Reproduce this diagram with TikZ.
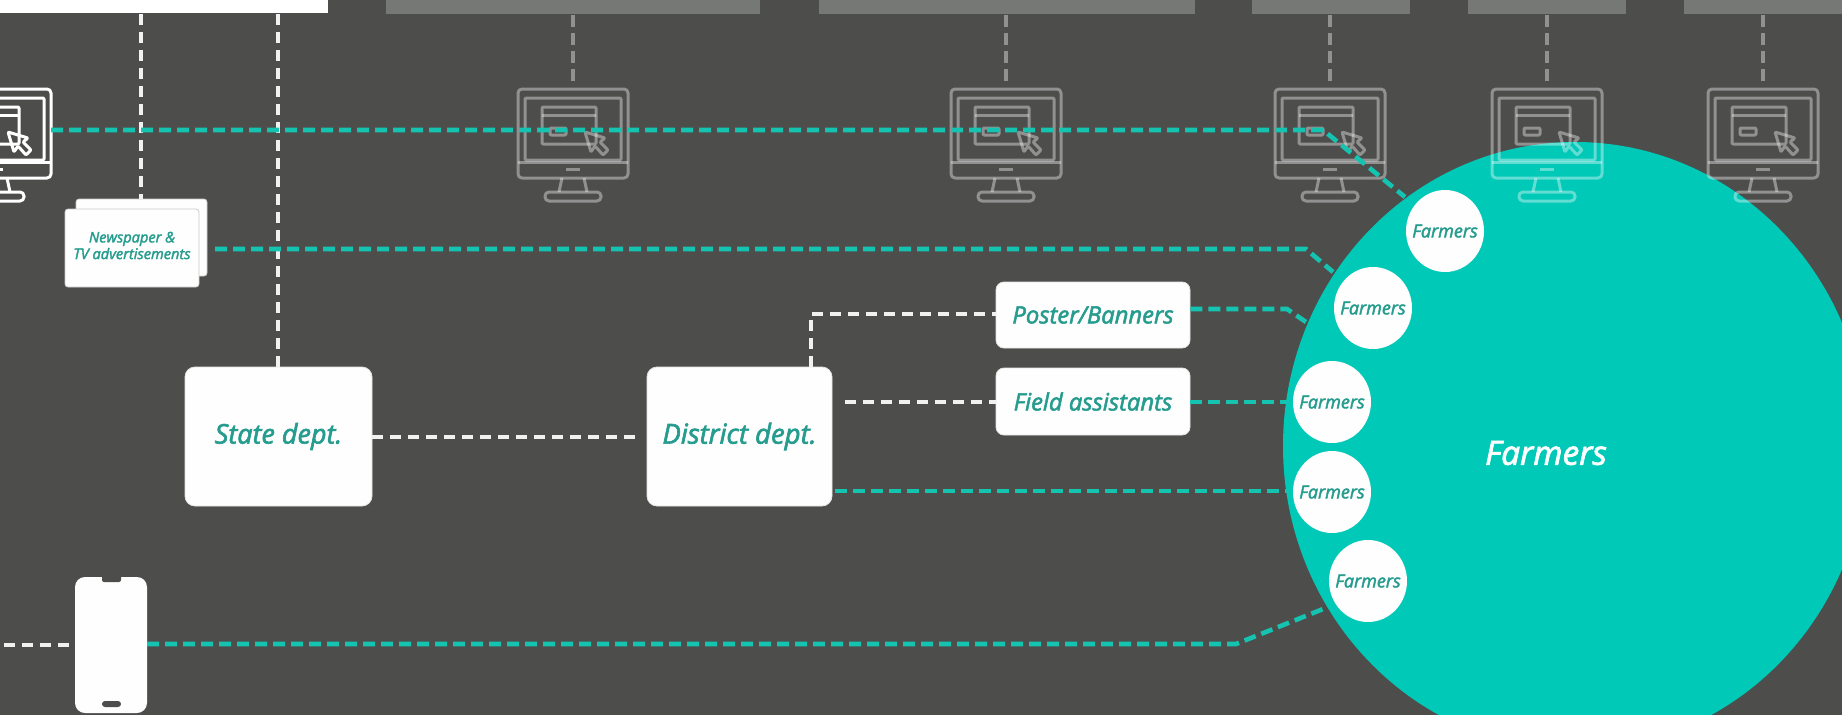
\documentclass[tikz,border=0pt]{standalone}
\usepackage{fontspec}
\setmainfont{Open Sans}[ItalicFeatures={FakeBold=2.2}]
\usetikzlibrary{shapes.geometric}
\definecolor{bgc}{HTML}{4D4E4C}
\definecolor{greybox}{HTML}{767876}
\definecolor{tealbig}{HTML}{00C9B8}
\definecolor{tealline}{HTML}{14C4B0}
\definecolor{tealtext}{HTML}{259C8E}
\definecolor{softwhite}{HTML}{FDFEFD}
\newcommand{\fs}[1]{\fontsize{#1}{#1}\selectfont}
\tikzset{
  whitebox/.style={fill=softwhite,draw=white!85!bgc,line width=.8pt,rounded corners=10pt,inner sep=0pt,
    text=tealtext,font=\fs{27}\itshape,align=center},
  smallbox/.style={whitebox,rounded corners=8pt,font=\fs{23.8}\itshape},
  newsbox/.style={fill=softwhite,draw=white!70!bgc,line width=.8pt,rounded corners=3pt,inner sep=0pt},
  farmer/.style={ellipse,fill=softwhite,inner sep=0pt,outer sep=0pt,minimum width=78pt,minimum height=82pt,
    text=tealtext,font=\fs{18}\itshape},
  whitedash/.style={draw=white!92!bgc,line width=4.6pt,dash pattern=on 11pt off 7pt},
  tealdash/.style={draw=tealline,line width=4.6pt,dash pattern=on 12pt off 6pt},
  greydash/.style={draw=white,opacity=.38,line width=4.4pt,dash pattern=on 12pt off 6pt},
  monitor/.pic={
    \begin{scope}[line width=3pt,line join=round,rounded corners=1pt]
      \draw[rounded corners=4pt] (-55,0) rectangle (55,89);
      \draw (-48,9) rectangle (48,71);
      \draw (-55,73) -- (55,73);
      \draw (-7,80) -- (7,80);
      \draw (-11,89) -- (-14,103) (11,89) -- (14,103);
      \draw[rounded corners=4pt] (-28,103) rectangle (28,112);
      \draw (-31,18) rectangle (23,55);
      \draw (-31,26) -- (23,26);
      \draw (-23,39) rectangle (-7,46);
      \draw (12,43) -- (18,63) -- (22,57) -- (30,66) -- (35,61) -- (27,53) -- (32,49) -- cycle;
    \end{scope}
  }
}
\begin{document}
\begin{tikzpicture}[x=1pt,y=-1pt]
  \path[use as bounding box,clip] (0,0) rectangle (1842,714.6);
  \fill[bgc] (0,0) rectangle (1842,716);

  % top boxes
  \fill[white] (-5,-5) rectangle (328,13);
  \fill[greybox] (386,-5) rectangle (760,14);
  \fill[greybox] (819,-5) rectangle (1195,14);
  \fill[greybox] (1252,-5) rectangle (1410,14);
  \fill[greybox] (1468,-5) rectangle (1626,14);
  \fill[greybox] (1684,-5) rectangle (1850,14);

  % big circle
  \node[ellipse,fill=tealbig,inner sep=0pt,outer sep=0pt,minimum width=584pt,minimum height=608pt] (big) at (1575,446) {};
  \node[text=softwhite,font=\fs{33.5}\itshape] (bigl) at (1546,453) {Farmers};

  % named anchors
  \coordinate (m0) at (-4,89);
  \coordinate (m1) at (573,89);
  \coordinate (m2) at (1006,89);
  \coordinate (m3) at (1330,89);
  \coordinate (m4) at (1547,89);
  \coordinate (m5) at (1763,89);

  % monitors
  \path[draw=white] (m0) pic {monitor};
  \begin{scope}[draw=white,opacity=.38]
    \path (m1) pic {monitor};
    \path (m2) pic {monitor};
    \path (m3) pic {monitor};
    \path (m4) pic {monitor};
    \path (m5) pic {monitor};
  \end{scope}

  % grey dashes from top boxes to monitors
  \coordinate (g1) at (573,15); \coordinate (g2) at (1006,15); \coordinate (g3) at (1330,15);
  \coordinate (g4) at (1547,15); \coordinate (g5) at (1763,15);
  \coordinate (h1) at (573,84); \coordinate (h2) at (1006,84); \coordinate (h3) at (1330,84);
  \coordinate (h4) at (1547,84); \coordinate (h5) at (1763,84);
  \foreach \i in {1,...,5} { \draw[greydash] (g\i) -- (h\i); }

  % boxes
  \node[newsbox,minimum width=131pt,minimum height=77pt] (newsback) at (141.5,237.5) {};
  \node[newsbox,minimum width=134pt,minimum height=78pt] (news) at (132,248) {};
  \node[text=tealtext,font=\fs{14.6}\itshape,align=center,inner sep=0pt] (newsl) at (132,245.5)
     {Newspaper \&\\[2pt]TV advertisements};
  \node[whitebox,minimum width=187pt,minimum height=139pt] (state) at (278.5,436.5) {State dept.};
  \node[whitebox,minimum width=185pt,minimum height=139pt,font=\fs{27.5}\itshape] (district) at (739.5,436.5) {District dept.};
  \node[smallbox,minimum width=194pt,minimum height=66pt] (poster) at (1093,315) {Poster/Banners};
  \node[smallbox,minimum width=194pt,minimum height=67pt] (field) at (1093,401.5) {Field assistants};

  % phone
  \node[fill=softwhite,rounded corners=10pt,inner sep=0pt,minimum width=72pt,minimum height=136pt] (phone) at (111,645) {};
  \fill[bgc,rounded corners=2pt] (102,570) rectangle (121,582);
  \fill[bgc,rounded corners=3pt] (102,701) rectangle (121,707);

  % white connectors
  \coordinate (t1) at (141,14); \coordinate (t2) at (278,14);
  \coordinate (ph) at (4,645);
  \draw[whitedash] (t1) -- (newsback.north -| t1);
  \draw[whitedash] (t2) -- (state.north -| t2);
  \coordinate (dstop) at (636,437);
  \draw[whitedash] (state.east |- dstop) -- (dstop);
  \coordinate (pbend) at (811,314);
  \draw[whitedash] (district.north -| pbend) -- (pbend) -- (poster.west |- pbend);
  \coordinate (fstart) at (845,402);
  \draw[whitedash] (fstart) -- (field.west |- fstart);
  \draw[whitedash] (ph) -- (phone.west |- ph);

  % teal connectors
  \coordinate (a1) at (51,130); \coordinate (a2) at (1323,130); \coordinate (a3) at (1405,197);
  \draw[tealdash] (a1) -- (a2) -- (a3);
  \coordinate (b1) at (215,249); \coordinate (b2) at (1306,249); \coordinate (b3) at (1333,272);
  \draw[tealdash] (b1) -- (b2) -- (b3);
  \coordinate (c2) at (1287,309); \coordinate (c3) at (1306,322);
  \draw[tealdash] (poster.east |- c2) -- (c2) -- (c3);
  \coordinate (d2) at (1289,402);
  \draw[tealdash] (field.east |- d2) -- (d2);
  \coordinate (e1) at (835,491); \coordinate (e2) at (1289,491);
  \draw[tealdash] (e1) -- (e2);
  \coordinate (p2) at (1236,644); \coordinate (p3) at (1328,607);
  \draw[tealdash] (phone.east |- p2) -- (p2) -- (p3);

  % farmers
  \node[farmer] (f1) at (1445,231) {\makebox[0pt]{Farmers}};
  \node[farmer] (f2) at (1373,308) {\makebox[0pt]{Farmers}};
  \node[farmer] (f3) at (1332,402) {\makebox[0pt]{Farmers}};
  \node[farmer] (f4) at (1332,492) {\makebox[0pt]{Farmers}};
  \node[farmer] (f5) at (1368,581) {\makebox[0pt]{Farmers}};
\end{tikzpicture}
\end{document}
